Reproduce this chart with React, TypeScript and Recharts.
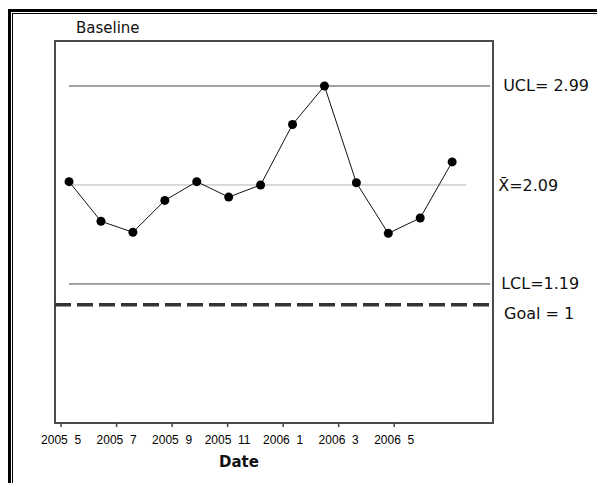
import { LineChart, Line, XAxis, YAxis, ReferenceLine, ReferenceArea } from 'recharts'

// monthly baseline, 2005-05 .. 2006-05
const months = ['2005-05', '2005-06', '2005-07', '2005-08', '2005-09', '2005-10', '2005-11', '2005-12', '2006-01', '2006-02', '2006-03', '2006-04', '2006-05']
const values = [2.12, 1.76, 1.66, 1.95, 2.12, 1.98, 2.09, 2.64, 2.99, 2.11, 1.65, 1.79, 2.30]

// axis labels as printed on the original (they sit offset from the points)
const tickLabels = ['2005\u00a0\u00a05', '2005\u00a0\u00a07', '2005\u00a0\u00a09', '2005\u00a0\u00a011', '2006\u00a0\u00a01', '2006\u00a0\u00a03', '2006\u00a0\u00a05']
const TICK_START = -0.25
const TICK_STEP = 1.739
const ticks = tickLabels.map((_, k) => TICK_START + TICK_STEP * k)

const UCL = 2.99
const MEAN = 2.09
const LCL = 1.19
const GOAL = 1

const X_DOMAIN: [number, number] = [-0.44, 13.28]
const Y_DOMAIN: [number, number] = [-0.074, 3.399]
const LIMIT_END = 13.19
const MEAN_END = 12.44

const data = months.map((m, i) => ({ idx: i, month: m, value: values[i] }))

const labelFont = { fontFamily: '"DejaVu Sans", sans-serif', fontSize: 16, fill: '#111' }

const sideLabel = (text: string, dx: number, dy = 0) => (props: any) => {
  const vb = props.viewBox || {}
  return (
    <text x={vb.x + vb.width + dx} y={vb.y + dy} dominantBaseline="central" {...labelFont}>
      {text}
    </text>
  )
}

const tickText = (v: number) => {
  const k = ticks.findIndex(t => Math.abs(t - v) < 1e-6)
  return k >= 0 ? tickLabels[k] : ''
}

export default function App() {
  return (
    <div style={{ position: 'absolute', left: 0, top: 0, width: 597, height: 483, background: '#fff', overflow: 'hidden' }}>
      <div style={{ position: 'absolute', left: 8, top: 9, right: -10, bottom: -10, borderTop: '3px solid #000', borderLeft: '3px solid #000' }} />
      <div style={{ position: 'absolute', left: 12, top: 13, right: -10, bottom: -10, borderTop: '1px solid #000', borderLeft: '1px solid #000' }} />
      <div style={{ position: 'absolute', left: 76, top: 19, fontFamily: '"DejaVu Sans", sans-serif', fontSize: 15, color: '#111' }}>Baseline</div>
      <div style={{ position: 'absolute', left: 219, top: 453, fontFamily: '"DejaVu Sans", sans-serif', fontSize: 15, fontWeight: 'bold', color: '#111' }}>Date</div>
      <div style={{ position: 'absolute', left: 0, top: 0 }}>
        <LineChart width={597} height={483} data={data} margin={{ top: 41, left: 55, right: 104, bottom: 30 }}>
          <XAxis
            dataKey="idx"
            type="number"
            domain={X_DOMAIN}
            ticks={ticks}
            tickFormatter={tickText}
            allowDataOverflow
            axisLine={false}
            tickLine={{ stroke: '#444', strokeWidth: 1.5 }}
            tickSize={4}
            tickMargin={8}
            height={30}
            tick={{ fontFamily: '"Liberation Sans", sans-serif', fontSize: 12, fill: '#000' }}
            interval={0}
          />
          <YAxis domain={Y_DOMAIN} allowDataOverflow hide />
          <ReferenceArea x1={X_DOMAIN[0]} x2={X_DOMAIN[1]} y1={Y_DOMAIN[0]} y2={Y_DOMAIN[1]} fill="none" stroke="#4a4a4a" strokeWidth={2} ifOverflow="visible" />
          <ReferenceLine segment={[{ x: 0, y: UCL }, { x: LIMIT_END, y: UCL }]} stroke="#444" strokeWidth={1} label={sideLabel('UCL= 2.99', 13)} />
          <ReferenceLine segment={[{ x: 0, y: MEAN }, { x: MEAN_END, y: MEAN }]} stroke="#b4b4b4" strokeWidth={1} label={sideLabel('X\u0304=2.09', 32, 1)} />
          <ReferenceLine segment={[{ x: 0, y: LCL }, { x: LIMIT_END, y: LCL }]} stroke="#444" strokeWidth={1} label={sideLabel('LCL=1.19', 11)} />
          <ReferenceLine y={GOAL} stroke="#333" strokeWidth={3.5} strokeDasharray="16 6" label={sideLabel('Goal = 1', 11, 9)} />
          <Line
            dataKey="value"
            stroke="#111"
            strokeWidth={1}
            dot={{ r: 4.5, fill: '#000', stroke: '#000', strokeWidth: 0 }}
            isAnimationActive={false}
          />
        </LineChart>
      </div>
    </div>
  )
}
